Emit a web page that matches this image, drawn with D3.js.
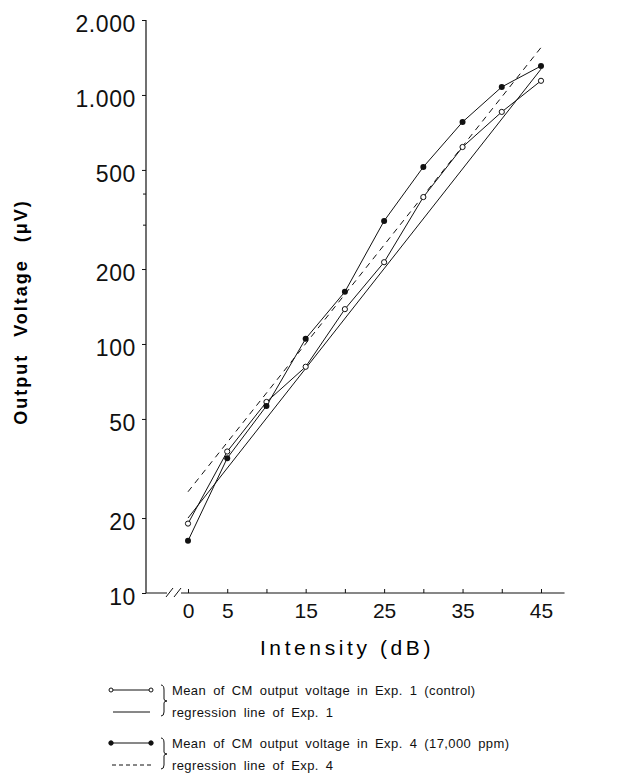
<!DOCTYPE html>
<html>
<head>
<meta charset="utf-8">
<script src="https://cdn.jsdelivr.net/npm/d3@7"></script>
<style>
  body { margin: 0; background: #fff; }
  svg { display: block; font-family: "Liberation Sans", Arial, sans-serif; }
  .tick text { fill: #111; }
</style>
</head>
<body>
<svg id="chart" width="621" height="774"></svg>
<script>
// intensity steps (dB)
const intensity = [0, 5, 10, 15, 20, 25, 30, 35, 40, 45];
// mean CM output voltage (uV)
const exp1Mean = [19, 37, 58.5, 81, 138, 213, 389, 618, 855, 1140];
const exp4Mean = [16.2, 34.8, 56.4, 105, 162, 312, 514, 779, 1077, 1307];
// regression lines, end points at 0 and 45 dB
const regX = [0, 45];
const exp1Reg = [20, 1270];
const exp4Reg = [25.5, 1550];

const yTicks = [10, 20, 50, 100, 200, 500, 1000, 2000];
const yTickLabels = ["10", "20", "50", "100", "200", "500", "1.000", "2.000"];
const yMinor = [300, 400];
const xTicks = [0, 5, 10, 15, 20, 25, 30, 35, 40, 45];
const xLabelled = [0, 5, 15, 25, 35, 45];

const legendRows = [
  "Mean of CM output voltage in Exp. 1 (control)",
  "regression line of Exp. 1",
  "Mean of CM output voltage in Exp. 4 (17,000 ppm)",
  "regression line of Exp. 4"
];

const svg = d3.select("#chart");
const x = d3.scaleLinear().domain([0, 45]).range([188, 541]);
const y = d3.scaleLog().domain([10, 2000]).range([593, 20]);
const axisLeft = 146, axisRight = x(48);

// y axis
const yAxis = d3.axisLeft(y)
  .tickValues(yTicks)
  .tickFormat((d, i) => yTickLabels[i])
  .tickSizeInner(4).tickSizeOuter(0).tickPadding(6);
const gy = svg.append("g").attr("transform", `translate(${axisLeft},0)`).call(yAxis);
gy.select(".domain").remove();
gy.selectAll(".tick line").attr("stroke", "#111");
gy.selectAll(".tick text")
  .attr("font-size", 23).attr("dy", "0.5em").attr("letter-spacing", 0.6);
svg.append("g").selectAll("line").data(yMinor).join("line")
  .attr("x1", axisLeft - 3).attr("x2", axisLeft)
  .attr("y1", d => y(d)).attr("y2", d => y(d))
  .attr("stroke", "#111");
svg.append("line")
  .attr("x1", axisLeft).attr("x2", axisLeft)
  .attr("y1", y(2000)).attr("y2", y(10))
  .attr("stroke", "#111").attr("stroke-width", 1.2);

// x axis with a break near the origin
const xAxis = d3.axisBottom(x)
  .tickValues(xTicks)
  .tickFormat(d => xLabelled.includes(d) ? d : "")
  .tickSizeInner(-4).tickSizeOuter(0).tickPadding(8);
const gx = svg.append("g").attr("transform", `translate(0,${y(10)})`).call(xAxis);
gx.select(".domain").remove();
gx.selectAll(".tick line").attr("stroke", "#111");
gx.selectAll(".tick text").attr("font-size", 21).attr("dy", "0.8em");

const y0 = y(10);
svg.append("path")
  .attr("d", `M${axisLeft},${y0}H167 M181,${y0}H${axisRight}`)
  .attr("fill", "none").attr("stroke", "#111").attr("stroke-width", 1.2);
svg.append("path")
  .attr("d", `M166,${y0 + 4}L173,${y0 - 5} M174,${y0 + 4}L181,${y0 - 5}`)
  .attr("fill", "none").attr("stroke", "#111").attr("stroke-width", 1);

// axis titles
svg.append("text")
  .attr("transform", `translate(27,312) rotate(-90)`)
  .attr("text-anchor", "middle")
  .attr("font-size", 18).attr("font-weight", "bold")
  .attr("letter-spacing", 2).attr("word-spacing", 10)
  .text("Output Voltage (\u03bcV)");
svg.append("text")
  .attr("x", 347).attr("y", 655)
  .attr("text-anchor", "middle")
  .attr("font-size", 21).attr("letter-spacing", 3.6)
  .text("Intensity (dB)");

// lines
const line = d3.line().x(d => x(d[0])).y(d => y(d[1]));
const plot = svg.append("g").attr("fill", "none").attr("stroke", "#111").attr("stroke-width", 1);
plot.append("path").attr("d", line(regX.map((v, i) => [v, exp1Reg[i]])));
plot.append("path").attr("d", line(regX.map((v, i) => [v, exp4Reg[i]])))
  .attr("stroke-dasharray", "6,5");
plot.append("path").attr("d", line(intensity.map((v, i) => [v, exp1Mean[i]])));
plot.append("path").attr("d", line(intensity.map((v, i) => [v, exp4Mean[i]])));

// markers
svg.append("g").selectAll("circle").data(intensity).join("circle")
  .attr("cx", d => x(d)).attr("cy", (d, i) => y(exp1Mean[i])).attr("r", 2.6)
  .attr("fill", "#fff").attr("stroke", "#111").attr("stroke-width", 1);
svg.append("g").selectAll("circle").data(intensity).join("circle")
  .attr("cx", d => x(d)).attr("cy", (d, i) => y(exp4Mean[i])).attr("r", 3)
  .attr("fill", "#111");

// legend
const rowY = [690, 712, 743, 765];
const lg = svg.append("g").attr("stroke", "#111").attr("fill", "none");
lg.append("line").attr("x1", 111).attr("x2", 151).attr("y1", rowY[0]).attr("y2", rowY[0]);
lg.selectAll("circle.o").data([111, 151]).join("circle").attr("class", "o")
  .attr("cx", d => d).attr("cy", rowY[0]).attr("r", 2).attr("fill", "#fff");
lg.append("line").attr("x1", 113).attr("x2", 150).attr("y1", rowY[1]).attr("y2", rowY[1]);
lg.append("line").attr("x1", 111).attr("x2", 151).attr("y1", rowY[2]).attr("y2", rowY[2]);
lg.selectAll("circle.f").data([111, 151]).join("circle").attr("class", "f")
  .attr("cx", d => d).attr("cy", rowY[2]).attr("r", 2.2).attr("fill", "#111");
lg.append("line").attr("x1", 112).attr("x2", 151).attr("y1", rowY[3]).attr("y2", rowY[3])
  .attr("stroke-dasharray", "4,3");
// braces
[[rowY[0], rowY[1]], [rowY[2], rowY[3]]].forEach(([a, b]) => {
  const m = (a + b) / 2;
  lg.append("path")
    .attr("d", `M161,${a - 5} Q164,${a - 5} 164,${a} L164,${m - 2} Q164,${m} 167,${m} Q164,${m} 164,${m + 2} L164,${b} Q164,${b + 4} 161,${b + 4}`)
    .attr("stroke-width", 1);
});
svg.append("g").selectAll("text").data(legendRows).join("text")
  .attr("x", 172).attr("y", (d, i) => rowY[i] + 5)
  .attr("font-size", 13).attr("letter-spacing", 0.4).attr("word-spacing", 3)
  .attr("fill", "#111")
  .text(d => d);
</script>
</body>
</html>
